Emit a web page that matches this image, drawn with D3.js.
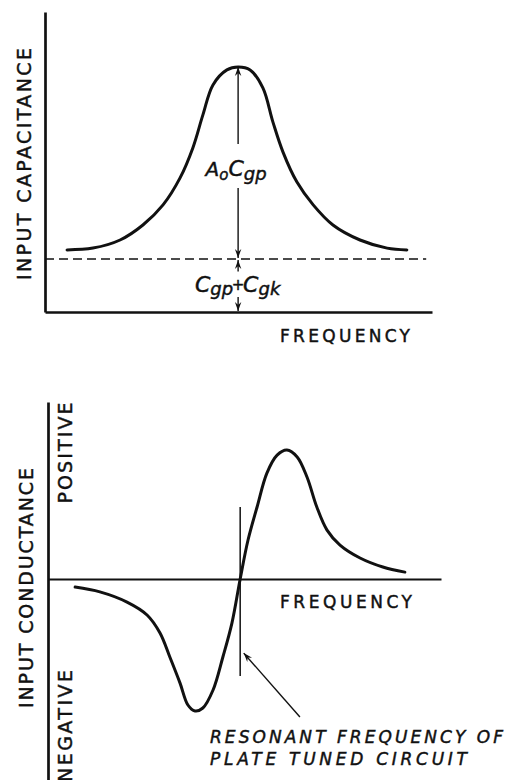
<!DOCTYPE html>
<html>
<head>
<meta charset="utf-8">
<script src="https://cdn.jsdelivr.net/npm/d3@7"></script>
<style>
  body { margin: 0; background: #fff; }
  text { font-family: "DejaVu Sans", sans-serif; fill: #111; stroke: #111; stroke-width: 0.45; }
</style>
</head>
<body>
<div id="chart"></div>
<script>
// input capacitance vs frequency (arbitrary units)
const capFreq = [5.7, 12.4, 19.4, 25.3, 30.5, 34.9, 38.2, 40.8, 43.4, 47.0, 49.9, 53.0, 56.3, 58.9, 61.5, 65.1, 69.3, 74.4, 81.4, 88.4, 93.5];
const capValue = [20.7, 21.3, 24.0, 29.0, 35.7, 44.7, 54.7, 65.7, 75.7, 80.7, 81.7, 80.7, 74.7, 63.3, 53.3, 43.3, 35.7, 29.0, 24.0, 21.3, 20.7];
const capBase = 17.7;   // Cgp + Cgk level
const capPeakFreq = 49.9;

// input conductance vs frequency
const condFreq = [6.9, 13.2, 20.1, 25.2, 28.5, 31.0, 33.6, 35.6, 37.4, 39.4, 42.0, 44.5, 46.8, 48.9, 50.9, 53.2, 55.7, 58.3, 60.8, 63.4, 65.9, 68.4, 71.0, 74.3, 79.4, 85.2, 90.8];
const condValue = [-2.7, -4.3, -7.7, -12.0, -18.0, -26.0, -34.7, -42.0, -44.0, -43.0, -37.0, -26.0, -14.7, 0, 13.0, 24.0, 35.3, 41.3, 43.0, 40.7, 34.0, 24.0, 16.3, 11.3, 7.0, 4.0, 2.3];
const resonantFreq = 48.9;

const width = 505;
const height = 780;

const svg = d3.select("#chart").append("svg")
  .attr("width", width)
  .attr("height", height);

svg.append("rect").attr("width", width).attr("height", height).attr("fill", "#fff");

const defs = svg.append("defs");
defs.append("marker")
  .attr("id", "head")
  .attr("viewBox", "-10 -5 12 10")
  .attr("markerWidth", 12)
  .attr("markerHeight", 10)
  .attr("markerUnits", "userSpaceOnUse")
  .attr("refX", 0)
  .attr("refY", 0)
  .attr("orient", "auto")
  .append("path")
  .attr("d", "M0,0 L-9,-3.2 L-6,0 L-9,3.2 Z")
  .attr("fill", "#111");

const line = (x, y) => d3.line()
  .x(d => x(d[0]))
  .y(d => y(d[1]))
  .curve(d3.curveCatmullRom.alpha(0.5));

function arrow(g, xa, ya, xb, yb, head) {
  const l = g.append("line")
    .attr("x1", xa).attr("y1", ya)
    .attr("x2", xb).attr("y2", yb)
    .attr("stroke", "#111")
    .attr("stroke-width", 1.4);
  if (head) l.attr("marker-end", "url(#head)");
  return l;
}

// ---------- top: input capacitance ----------
const xCap = d3.scaleLinear().domain([0, 100]).range([45, 432]);
const yCap = d3.scaleLinear().domain([0, 100]).range([312, 12]);

const gCap = svg.append("g");

gCap.append("g")
  .attr("transform", `translate(${xCap(0)},0)`)
  .call(d3.axisLeft(yCap).ticks(0).tickSizeOuter(0))
  .select(".domain").attr("stroke", "#111").attr("stroke-width", 2.7);

gCap.append("g")
  .attr("transform", `translate(0,${yCap(0)})`)
  .call(d3.axisBottom(xCap).ticks(0).tickSizeOuter(0))
  .select(".domain").attr("stroke", "#111").attr("stroke-width", 2.7);

gCap.append("line")
  .attr("x1", xCap(0)).attr("x2", xCap(98.5))
  .attr("y1", yCap(capBase)).attr("y2", yCap(capBase))
  .attr("stroke", "#111")
  .attr("stroke-width", 1.5)
  .attr("stroke-dasharray", "9,5");

gCap.append("path")
  .datum(d3.zip(capFreq, capValue))
  .attr("fill", "none")
  .attr("stroke", "#111")
  .attr("stroke-width", 3)
  .attr("stroke-linecap", "round")
  .attr("d", line(xCap, yCap));

const ax = xCap(capPeakFreq);
const peak = d3.max(capValue);
arrow(gCap, ax, yCap(56), ax, yCap(peak), true);
arrow(gCap, ax, yCap(41.3), ax, yCap(capBase) - 1, true);
arrow(gCap, ax, yCap(13.5), ax, yCap(capBase) + 1, true);
arrow(gCap, ax, yCap(5), ax, yCap(0) - 1, true);

const a0 = gCap.append("text")
  .attr("x", ax - 2).attr("y", 176)
  .attr("text-anchor", "middle")
  .attr("font-style", "italic")
  .attr("font-size", 20);
a0.append("tspan").text("A");
a0.append("tspan").attr("dy", 4).attr("font-size", 15).text("o");
a0.append("tspan").attr("dy", -4).attr("font-size", 22).text("C");
a0.append("tspan").attr("dy", 4).attr("font-size", 18).text("gp");

const c1 = gCap.append("text")
  .attr("x", ax - 5).attr("y", 292)
  .attr("text-anchor", "end")
  .attr("font-style", "italic")
  .attr("font-size", 22);
c1.append("tspan").text("C");
c1.append("tspan").attr("dy", 3).attr("font-size", 18).text("gp");

gCap.append("text")
  .attr("x", ax).attr("y", 290)
  .attr("text-anchor", "middle")
  .attr("font-size", 15)
  .text("+");

const c2 = gCap.append("text")
  .attr("x", ax + 5).attr("y", 292)
  .attr("text-anchor", "start")
  .attr("font-style", "italic")
  .attr("font-size", 22);
c2.append("tspan").text("C");
c2.append("tspan").attr("dy", 3).attr("font-size", 18).text("gk");

gCap.append("text")
  .attr("transform", "translate(31,164) rotate(-90)")
  .attr("text-anchor", "middle")
  .attr("font-size", 19)
  .attr("textLength", 232)
  .attr("lengthAdjust", "spacing")
  .text("INPUT CAPACITANCE");

gCap.append("text")
  .attr("x", 280).attr("y", 342)
  .attr("font-size", 17)
  .attr("textLength", 130)
  .attr("lengthAdjust", "spacing")
  .text("FREQUENCY");

// ---------- bottom: input conductance ----------
const xCond = d3.scaleLinear().domain([0, 100]).range([48, 441]);
const yCond = d3.scaleLinear().domain([-67, 59]).range([780, 402]);

const gCond = svg.append("g");

gCond.append("g")
  .attr("transform", `translate(${xCond(0)},0)`)
  .call(d3.axisLeft(yCond).ticks(0).tickSizeOuter(0))
  .select(".domain").attr("stroke", "#111").attr("stroke-width", 2.7);

gCond.append("g")
  .attr("transform", `translate(0,${yCond(0)})`)
  .call(d3.axisBottom(xCond).ticks(0).tickSizeOuter(0))
  .select(".domain").attr("stroke", "#111").attr("stroke-width", 2.2);

gCond.append("path")
  .datum(d3.zip(condFreq, condValue))
  .attr("fill", "none")
  .attr("stroke", "#111")
  .attr("stroke-width", 3)
  .attr("stroke-linecap", "round")
  .attr("d", line(xCond, yCond));

gCond.append("line")
  .attr("x1", xCond(resonantFreq)).attr("x2", xCond(resonantFreq))
  .attr("y1", yCond(24)).attr("y2", yCond(-32.3))
  .attr("stroke", "#111")
  .attr("stroke-width", 1.5);

arrow(gCond, xCond(64.1), yCond(-46), xCond(49.8), yCond(-24.7), true);

gCond.append("text")
  .attr("transform", "translate(33,588) rotate(-90)")
  .attr("text-anchor", "middle")
  .attr("font-size", 19)
  .attr("textLength", 240)
  .attr("lengthAdjust", "spacing")
  .text("INPUT CONDUCTANCE");

gCond.append("text")
  .attr("transform", "translate(72,453) rotate(-90)")
  .attr("text-anchor", "middle")
  .attr("font-size", 19)
  .attr("textLength", 101)
  .attr("lengthAdjust", "spacing")
  .text("POSITIVE");

gCond.append("text")
  .attr("transform", "translate(72,670) rotate(-90)")
  .attr("text-anchor", "end")
  .attr("font-size", 19)
  .attr("textLength", 112)
  .attr("lengthAdjust", "spacing")
  .text("NEGATIVE");

gCond.append("text")
  .attr("x", 280).attr("y", 608)
  .attr("font-size", 17)
  .attr("textLength", 132)
  .attr("lengthAdjust", "spacing")
  .text("FREQUENCY");

gCond.append("text")
  .attr("x", 210).attr("y", 743)
  .attr("font-style", "italic")
  .attr("font-size", 17)
  .attr("textLength", 293)
  .attr("lengthAdjust", "spacing")
  .text("RESONANT FREQUENCY OF");

gCond.append("text")
  .attr("x", 210).attr("y", 765)
  .attr("font-style", "italic")
  .attr("font-size", 17)
  .attr("textLength", 257)
  .attr("lengthAdjust", "spacing")
  .text("PLATE TUNED CIRCUIT");
</script>
</body>
</html>
